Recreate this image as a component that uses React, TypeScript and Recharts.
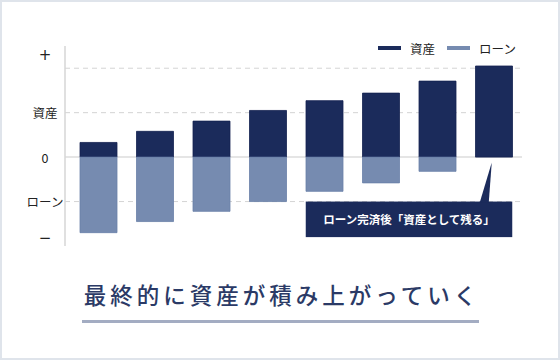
import React from "react";
import {
  BarChart,
  Bar,
  XAxis,
  YAxis,
  CartesianGrid,
  ReferenceArea,
} from "recharts";

const years = ["1", "2", "3", "4", "5", "6", "7", "8"];
const assetValues = [0.33, 0.58, 0.81, 1.05, 1.27, 1.44, 1.71, 2.05];
const loanValues = [-1.7, -1.45, -1.22, -1.0, -0.77, -0.58, -0.32, 0];

const yTickValues = [2.3, 1, 0, -1, -1.82];
const yTickLabels = ["+", "資産", "0", "ローン", "−"];
const dashedLevels = [2, 1, -1];
const zeroLevel = [0];
const xTickSteps = [0, 1, 2, 3, 4, 5, 6, 7, 8, 9, 10];

const seriesNames = ["資産", "ローン"];
const seriesColors = ["#1b2b5b", "#768bb0"];

const calloutText = "ローン完済後「資産として残る」";
const calloutFrom = "5";
const calloutTo = "8";
const calloutRange = [-1, -1.8];
const title = "最終的に資産が積み上がっていく";

const data = years.map((name, i) => ({
  name,
  asset: assetValues[i],
  loan: loanValues[i],
}));

const FONT = '"Noto Sans CJK JP", "Noto Sans", sans-serif';
const BAR_SIZE = 37;

const YTick = (props: any) => {
  const { y, payload } = props;
  const idx = yTickValues.indexOf(payload.value);
  const label = idx >= 0 ? yTickLabels[idx] : "";
  const symbol = label === "+" || label === "−";
  return (
    <text
      x={45}
      y={y}
      textAnchor="middle"
      dominantBaseline="central"
      fontSize={symbol ? 15 : 12.5}
      fill="#222"
      fontFamily={symbol ? '"DejaVu Sans", sans-serif' : FONT}
    >
      {label}
    </text>
  );
};

const Callout = (props: any) => {
  const { x, y, width, height } = props;
  const band = width / 4;
  const inset = (band - BAR_SIZE) / 2;
  const left = x + inset;
  const right = x + width - inset;
  const tipX = x + width - band / 2 - 2;
  const tipY = y - 39;
  return (
    <g>
      <rect x={left} y={y} width={right - left} height={height} fill="#1b2b5b" />
      <polygon
        points={`${tipX - 12},${y + 1} ${tipX - 3},${y + 1} ${tipX},${tipY}`}
        fill="#1b2b5b"
      />
      <text
        x={(left + right) / 2}
        y={y + height / 2}
        textAnchor="middle"
        dominantBaseline="central"
        fill="#fff"
        fontSize={11.5}
        fontWeight="bold"
        fontFamily={FONT}
      >
        {calloutText}
      </text>
    </g>
  );
};

export default function App() {
  return (
    <div
      style={{
        position: "absolute",
        top: 0,
        left: 0,
        width: 560,
        height: 360,
        background: "#fff",
        fontFamily: FONT,
      }}
    >
      <div
        style={{
          position: "absolute",
          inset: 0,
          border: "2px solid #dfe4eb",
        }}
      />
      <div style={{ position: "absolute", top: 0, left: 0 }}>
        <BarChart
          width={560}
          height={260}
          data={data}
          stackOffset="sign"
          margin={{ top: 46, right: 38, left: 0, bottom: 4 }}
        >
          <CartesianGrid
            vertical={false}
            horizontalValues={dashedLevels}
            stroke="#d4d4d4"
            strokeDasharray="5 4"
          />
          <CartesianGrid
            vertical={false}
            horizontalValues={zeroLevel}
            stroke="#dcdcdc"
            strokeWidth={1.5}
          />
          <XAxis dataKey="name" hide padding={{ left: 5, right: 0 }} />
          <XAxis
            xAxisId="deco"
            type="number"
            domain={[0, 10]}
            allowDataOverflow
            ticks={xTickSteps}
            interval={0}
            tick={() => <g />}
            tickSize={6}
            height={10}
            padding={{ left: 0, right: 4 }}
            stroke="#d6d6d6"
            strokeWidth={1.5}
          />
          <YAxis
            type="number"
            domain={[-2, 2.5]}
            allowDataOverflow
            ticks={yTickValues}
            interval={0}
            tickLine={false}
            tick={<YTick />}
            width={65}
            stroke="#d6d6d6"
            strokeWidth={1.5}
          />
          <Bar
            dataKey="asset"
            name={seriesNames[0]}
            stackId="a"
            fill={seriesColors[0]}
            stroke="#142250"
            strokeWidth={0.8}
            barSize={BAR_SIZE}
            isAnimationActive={false}
          />
          <Bar
            dataKey="loan"
            name={seriesNames[1]}
            stackId="a"
            fill={seriesColors[1]}
            stroke="#6a80a8"
            strokeWidth={0.8}
            barSize={BAR_SIZE}
            isAnimationActive={false}
          />
          <ReferenceArea
            x1={calloutFrom}
            x2={calloutTo}
            y1={calloutRange[0]}
            y2={calloutRange[1]}
            shape={Callout}
            ifOverflow="visible"
          />
        </BarChart>
      </div>
      <div
        style={{
          position: "absolute",
          left: 378,
          top: 40,
          display: "flex",
          alignItems: "center",
          fontSize: 12.5,
          color: "#222",
          height: 16,
        }}
      >
        {seriesNames.map((n, i) => (
          <div
            key={n}
            style={{ display: "flex", alignItems: "center", marginRight: 12 }}
          >
            <span
              style={{
                display: "inline-block",
                width: 23,
                height: 4,
                background: seriesColors[i],
                marginRight: 9,
              }}
            />
            <span>{n}</span>
          </div>
        ))}
      </div>
      <div
        style={{
          position: "absolute",
          left: 0,
          top: 283,
          width: 564,
          textAlign: "center",
          fontSize: 22.5,
          lineHeight: "22px",
          letterSpacing: 4,
          fontWeight: 500,
          color: "#2b3a66",
        }}
      >
        {title}
      </div>
      <div
        style={{
          position: "absolute",
          left: 82,
          top: 320,
          width: 397,
          height: 3,
          background: "#a3acc2",
        }}
      />
    </div>
  );
}
